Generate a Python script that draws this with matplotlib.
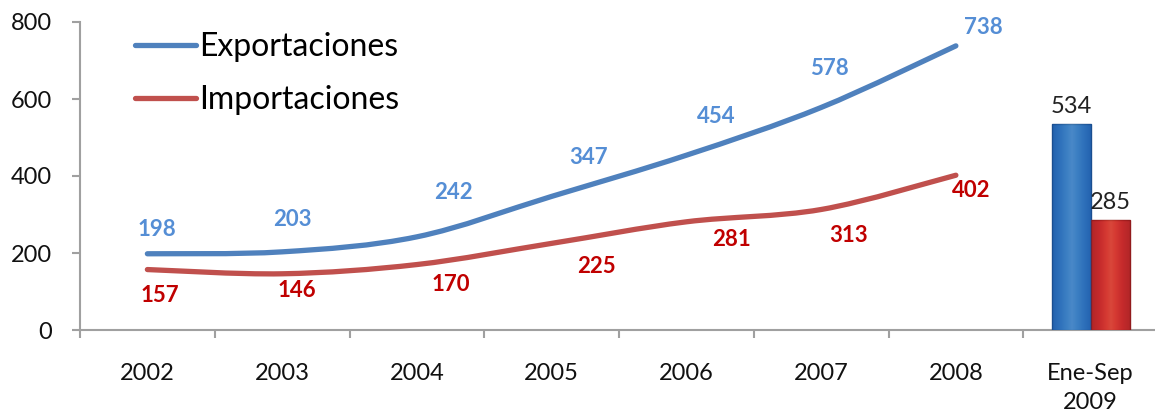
import numpy as np
import matplotlib
matplotlib.use("Agg")
import matplotlib.pyplot as plt
from matplotlib.path import Path
from matplotlib.patches import PathPatch

plt.rcParams['font.family'] = ['Lato', 'DejaVu Sans']

# datos
years = ['2002', '2003', '2004', '2005', '2006', '2007', '2008']
exportaciones = [198, 203, 242, 347, 454, 578, 738]
importaciones = [157, 146, 170, 225, 281, 313, 402]
last_label = 'Ene-Sep\n2009'
last_exp = 534
last_imp = 285

# desplazamiento de las etiquetas (px)
exp_off = [(10, 24), (10, 32), (37, 44), (37, 39), (30, 39), (8, 39), (27, 18)]
imp_off = [(12, -26), (15, -17), (34, -20), (45, -23), (45, -18), (27, -26), (15, -15)]

blue = '#4F81BD'
red = '#C0504D'


def smooth_path(xs, ys):
    # curva suavizada tipo Excel (Catmull-Rom -> Bezier)
    pts = np.column_stack([xs, ys]).astype(float)
    n = len(pts)
    verts = [pts[0]]
    codes = [Path.MOVETO]
    for i in range(n - 1):
        p0 = pts[i - 1] if i > 0 else pts[i]
        p1 = pts[i]
        p2 = pts[i + 1]
        p3 = pts[i + 2] if i + 2 < n else pts[i + 1]
        c1 = p1 + (p2 - p0) / 6
        c2 = p2 - (p3 - p1) / 6
        verts += [c1, c2, p2]
        codes += [Path.CURVE4] * 3
    return Path(verts, codes)


fig = plt.figure(figsize=(11.55, 4.19), dpi=100)
ax = fig.add_axes([80 / 1155, 89 / 419, 1078 / 1155, 308 / 419])

x = np.arange(len(years))
for vals, col, lab in [(exportaciones, blue, 'Exportaciones'), (importaciones, red, 'Importaciones')]:
    ax.add_patch(PathPatch(smooth_path(x, vals), fill=False, edgecolor=col, lw=3.8,
                           capstyle='round', joinstyle='round'))
    ax.plot([], [], color=col, lw=3.8, solid_capstyle='round', label=lab)

for xi, v, (dx, dy) in zip(x, exportaciones, exp_off):
    ax.annotate(str(v), (xi, v), xytext=(dx * 0.72, dy * 0.72), textcoords='offset points',
                ha='center', va='center', fontsize=16, fontweight='bold', color='#558ED5')
for xi, v, (dx, dy) in zip(x, importaciones, imp_off):
    ax.annotate(str(v), (xi, v), xytext=(dx * 0.72, dy * 0.72), textcoords='offset points',
                ha='center', va='center', fontsize=16, fontweight='bold', color='#C00000')

# barras 2009
xb = len(years)
bw = 0.29
bars = ax.bar([xb - bw / 2, xb + bw / 2], [last_exp, last_imp], width=bw,
              color=['#3C74C2', '#C23A38'], edgecolor=['#2A5290', '#8E2624'], lw=1, zorder=3)
grad = np.abs(np.linspace(-1, 1, 50))[None, :]
for b, cmap in zip(bars, ['Blues', 'Reds']):
    x0, y0 = b.get_x(), b.get_y()
    im = ax.imshow(0.55 + 0.35 * grad, cmap=cmap, vmin=0, vmax=1, aspect='auto',
                   extent=[x0, x0 + b.get_width(), 0, b.get_height()], zorder=3.5, alpha=0.45)
    im.set_clip_path(b)
ax.text(xb - bw / 2, last_exp + 18, str(last_exp), ha='center', va='bottom', fontsize=17, color='#222222')
ax.text(xb + bw / 2, last_imp + 18, str(last_imp), ha='center', va='bottom', fontsize=17, color='#222222')

ax.set_xlim(-0.5, len(years) + 0.5)
ax.set_ylim(0, 800)
ax.set_yticks(range(0, 801, 200))
ax.set_xticks(list(x) + [xb])
ax.set_xticklabels(years + [last_label])
ax.get_xticklabels()[-1].set_linespacing(1.45)
ax.set_xticks(np.arange(-0.5, len(years) + 0.5, 1), minor=True)
ax.tick_params(axis='x', which='major', length=0, pad=24, labelsize=17, colors='#111111')
ax.tick_params(axis='x', which='minor', length=6, width=1.5, color='#A0A0A0', direction='out')
ax.tick_params(axis='y', length=6, width=1.5, color='#A0A0A0', pad=14, labelsize=17, labelcolor='#111111')
for s in ['top', 'right']:
    ax.spines[s].set_visible(False)
for s in ['left', 'bottom']:
    ax.spines[s].set_color('#A0A0A0')
    ax.spines[s].set_linewidth(1.5)

leg = ax.legend(loc='upper left', bbox_to_anchor=(0.039, 1.01), frameon=False, fontsize=23,
                handlelength=1.9, handletextpad=0.12, labelspacing=0.72, borderaxespad=0)

fig.savefig('out.png', dpi=100)
